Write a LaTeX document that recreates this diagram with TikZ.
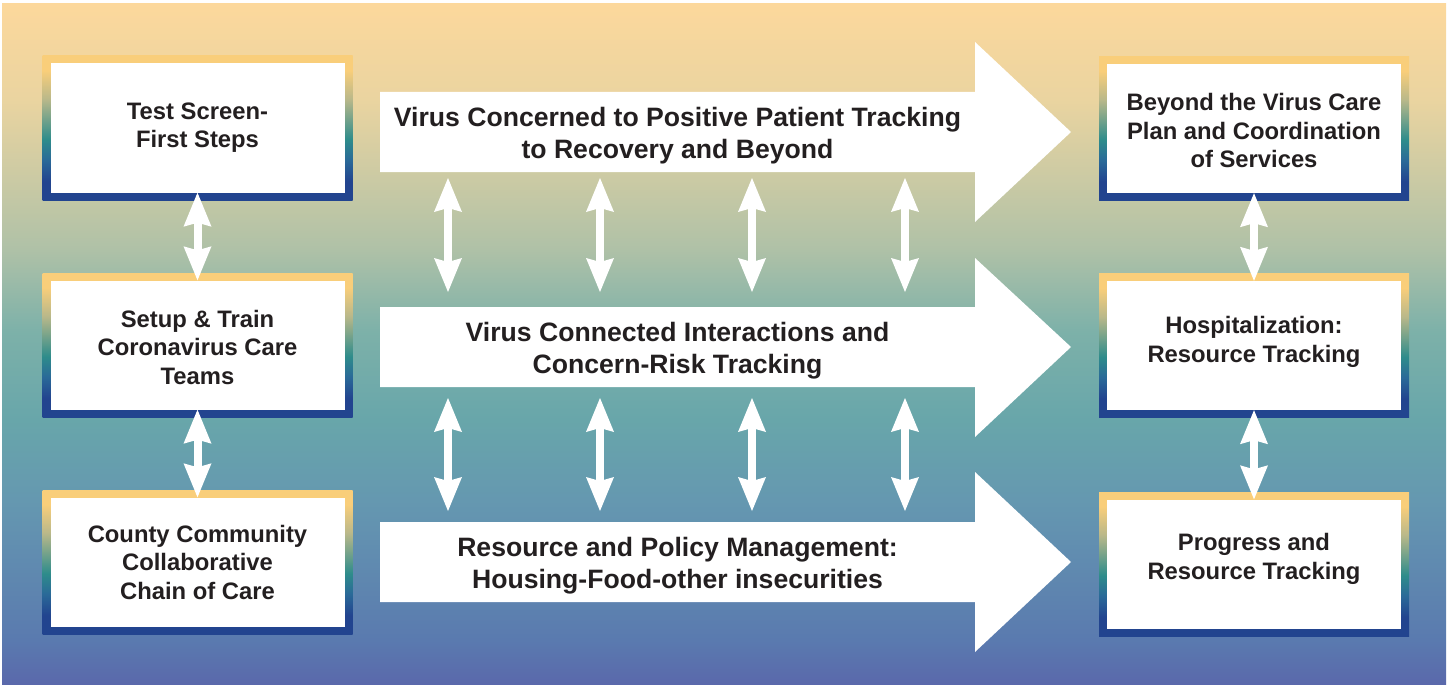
\documentclass[tikz,border=0pt]{standalone}
\usepackage{fontspec}
\setmainfont{Liberation Sans}
\usetikzlibrary{arrows.meta}
\definecolor{txt}{HTML}{231F20}
\definecolor{bg0}{HTML}{FCD89C}
\definecolor{bg1}{HTML}{EAD4A0}
\definecolor{bg2}{HTML}{AFC1A7}
\definecolor{bg3}{HTML}{7DB1A9}
\definecolor{bg4}{HTML}{68A6AA}
\definecolor{bg5}{HTML}{6598B0}
\definecolor{bg6}{HTML}{5A7AAF}
\definecolor{bg7}{HTML}{5A68AB}
\definecolor{by}{HTML}{F9CE7A}
\definecolor{bo}{HTML}{B9B88A}
\definecolor{bt}{HTML}{2E8C8B}
\definecolor{bm}{HTML}{2A6A98}
\definecolor{bb}{HTML}{22448F}
\pgfdeclareverticalshading{bgshade}{100bp}{color(0bp)=(bg7); color(25bp)=(bg7); color(28.3bp)=(bg6); color(38.6bp)=(bg5); color(44.5bp)=(bg4); color(51bp)=(bg3); color(57bp)=(bg2); color(68bp)=(bg1); color(75bp)=(bg0); color(100bp)=(bg0)}
\pgfdeclareverticalshading{bordershade}{100bp}{color(0bp)=(bb); color(25bp)=(bb); color(31.5bp)=(bb); color(39bp)=(bm); color(46bp)=(bt); color(60bp)=(bo); color(70bp)=(by); color(75bp)=(by); color(100bp)=(by)}
\begin{document}
\begin{tikzpicture}[x=1pt,y=-1pt,
  outerbox/.style={shade, shading=bordershade, draw=none, minimum width=310pt, minimum height=144pt, inner sep=0pt},
  innerbox/.style={fill=white, draw=none, minimum width=294pt, minimum height=129pt, inner sep=0pt},
  boxtext/.style={font=\fontsize{23.8}{28.5}\selectfont\bfseries, text=txt, align=center, inner sep=0pt},
  arrowtext/.style={font=\fontsize{26.6}{32}\selectfont\bfseries, text=txt, align=center, inner sep=0pt},
  bigarrow/.style={fill=white, draw=none},
  dbl/.style={draw=white, line width=8pt,
    {Stealth[length=34pt,width=28pt,inset=4pt,line width=0pt]}-{Stealth[length=34pt,width=28pt,inset=4pt,line width=0pt]}}
]
\useasboundingbox (0,0) rectangle (1449,685);
\shade[shading=bgshade] (2,4) rectangle (1446,685);

% big arrows
\path[bigarrow] (380,92) -- (975,92) -- (975,42) -- (1071,132) -- (975,222) -- (975,172) -- (380,172) -- cycle;
\path[bigarrow] (380,307) -- (975,307) -- (975,258) -- (1071,347) -- (975,437) -- (975,387) -- (380,387) -- cycle;
\path[bigarrow] (380,522) -- (975,522) -- (975,472) -- (1071,562) -- (975,652) -- (975,602) -- (380,602) -- cycle;

\node[arrowtext] (A1t) at (677.5,135.5) {Virus Concerned to Positive Patient Tracking\\to Recovery and Beyond};
\node[arrowtext] (A2t) at (677.5,350.5) {Virus Connected Interactions and\\Concern-Risk Tracking};
\node[arrowtext] (A3t) at (677.5,565.5) {Resource and Policy Management:\\Housing-Food-other insecurities};

% left boxes
\node[outerbox] (L1) at (197.5,128) {};
\node[innerbox] (L1i) at (L1.center) {};
\node[boxtext] (L1t) at (197.5,127.5) {Test Screen-\\First Steps};
\node[outerbox] (L2) at (197.5,345) {};
\node[innerbox] (L2i) at (L2.center) {};
\node[boxtext] (L2t) at (197.5,347) {Setup \& Train\\Coronavirus Care\\Teams};
\node[outerbox] (L3) at (197.5,562) {};
\node[innerbox] (L3i) at (L3.center) {};
\node[boxtext] (L3t) at (197.5,562) {County Community\\Collaborative\\Chain of Care};

% right boxes
\node[outerbox] (R1) at (1254,128.5) {};
\node[innerbox] (R1i) at (R1.center) {};
\node[boxtext] (R1t) at (1254,130.5) {Beyond the Virus Care\\Plan and Coordination\\of Services};
\node[outerbox] (R2) at (1254,345.5) {};
\node[innerbox] (R2i) at (R2.center) {};
\node[boxtext] (R2t) at (1254,342) {Hospitalization:\\Resource Tracking};
\node[outerbox] (R3) at (1254,564) {};
\node[innerbox] (R3i) at (R3.center) {};
\node[boxtext] (R3t) at (1254,559) {Progress and\\Resource Tracking};

% side double arrows
\draw[dbl] (L1i.south) -- (L2i.north);
\draw[dbl] (L2i.south) -- (L3i.north);
\draw[dbl] (R1i.south) -- (R2i.north);
\draw[dbl] (R2i.south) -- (R3i.north);

% middle double arrows
\foreach \i/\x in {1/448,2/600,3/752,4/905}{
  \coordinate (ua\i) at (\x,178);
  \coordinate (ub\i) at (\x,292);
  \coordinate (la\i) at (\x,398);
  \coordinate (lb\i) at (\x,511);
  \draw[dbl] (ua\i) -- (ub\i);
  \draw[dbl] (la\i) -- (lb\i);
}
\end{tikzpicture}
\end{document}
